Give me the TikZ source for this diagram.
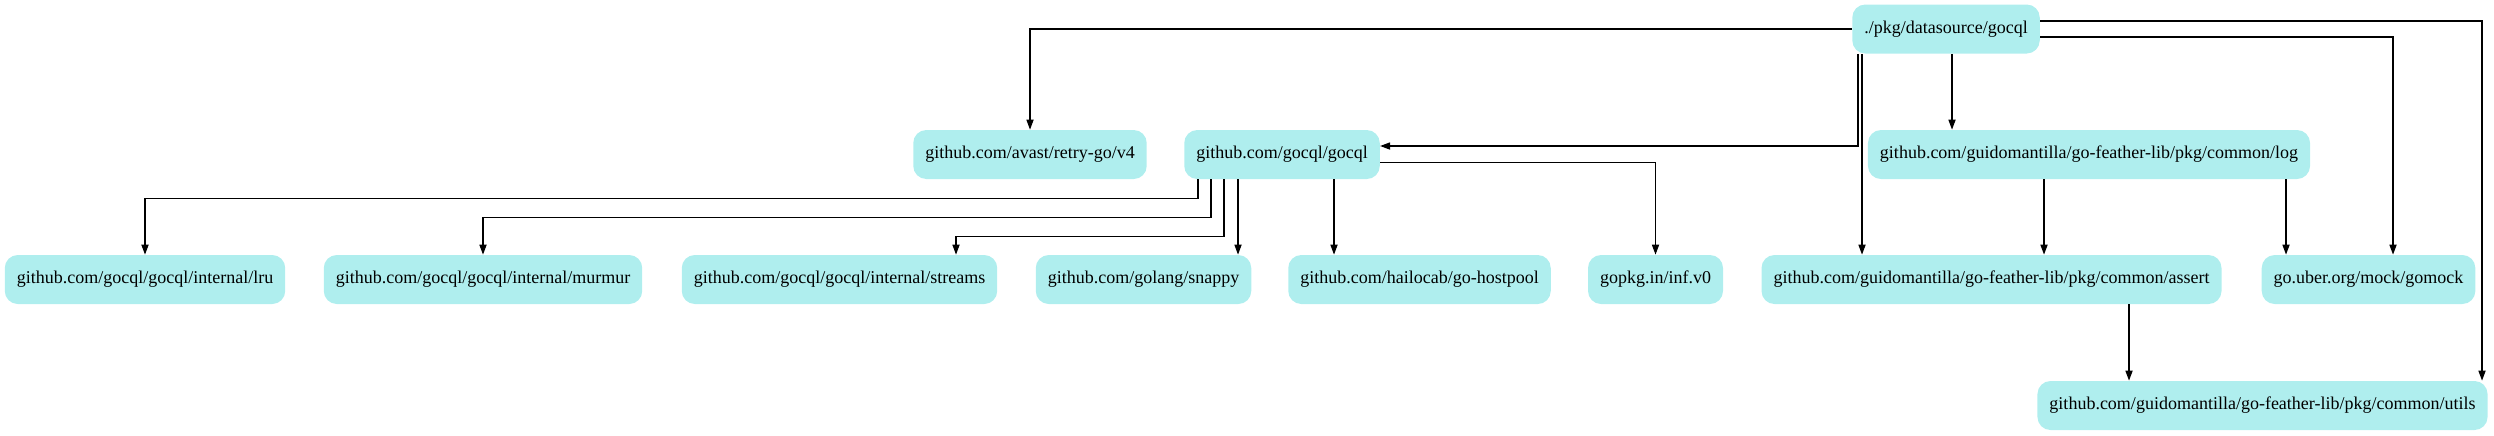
\documentclass[tikz,border=0pt]{standalone}
\usepackage{fontspec}
\setmainfont{Liberation Serif}
\usetikzlibrary{arrows.meta,calc}
\definecolor{paleturq}{HTML}{AFEEEE}
\begin{document}
\begin{tikzpicture}[x=0.5pt,y=-0.5pt,
		pkg/.style={fill=paleturq, rounded corners=6.5pt, minimum height=24.5pt, inner xsep=6pt, inner ysep=0pt, font=\fontsize{9}{11}\selectfont},
		dep/.style={line width=0.55pt, -{Triangle[length=5pt,width=3.6pt]}}]
				\useasboundingbox (0,0) rectangle (2494,435);
				% packages
				\node[pkg] (root) at (1946,29) {./pkg/datasource/gocql};
				\node[pkg] (retry) at (1030,154.5) {github.com/avast/retry-go/v4};
				\node[pkg] (gocql) at (1282,154.5) {github.com/gocql/gocql};
				\node[pkg] (log) at (2089,154.5) {github.com/guidomantilla/go-feather-lib/pkg/common/log};
				\node[pkg] (lru) at (145,279.5) {github.com/gocql/gocql/internal/lru};
				\node[pkg] (murmur) at (483,279.5) {github.com/gocql/gocql/internal/murmur};
				\node[pkg] (streams) at (839.5,279.5) {github.com/gocql/gocql/internal/streams};
				\node[pkg] (snappy) at (1143.5,279.5) {github.com/golang/snappy};
				\node[pkg] (hostpool) at (1419.5,279.5) {github.com/hailocab/go-hostpool};
				\node[pkg] (inf) at (1655.5,279.5) {gopkg.in/inf.v0};
				\node[pkg] (assert) at (1991.5,279.5) {github.com/guidomantilla/go-feather-lib/pkg/common/assert};
				\node[pkg] (gomock) at (2368.5,279.5) {go.uber.org/mock/gomock};
				\node[pkg] (utils) at (2262.5,405.5) {github.com/guidomantilla/go-feather-lib/pkg/common/utils};
				% imports of ./pkg/datasource/gocql
				\draw[dep] (root.west) -| (retry.north);
				\draw[dep] ($(root.south)+(-88,0)$) |- ($(gocql.east)+(0,-8.5)$);
				\draw[dep] ($(root.south)+(6,0)$) coordinate (r1) -- (r1 |- log.north);
				\draw[dep] ($(root.south)+(-84,0)$) coordinate (r2) -- (r2 |- assert.north);
				\draw[dep] ($(root.east)+(0,8)$) -| ($(gomock.north)+(24.5,0)$);
				\draw[dep] ($(root.east)+(0,-8)$) -| ($(utils.north)+(219.5,0)$);
				% imports of github.com/gocql/gocql
				\draw[dep] ($(gocql.south)+(-84,0)$) -- ++(0,18.7) -| (lru.north);
				\draw[dep] ($(gocql.south)+(-71,0)$) -- ++(0,37.7) -| (murmur.north);
				\draw[dep] ($(gocql.south)+(-58,0)$) -- ++(0,57) -| ($(streams.north)+(116.5,0)$);
				\draw[dep] ($(gocql.south)+(-44,0)$) coordinate (g1) -- (g1 |- snappy.north);
				\draw[dep] ($(gocql.south)+(52,0)$) coordinate (g2) -- (g2 |- hostpool.north);
				\draw[dep] ($(gocql.east)+(0,8.2)$) -| (inf.north);
				% go-feather-lib
				\draw[dep] ($(log.south)+(-45,0)$) coordinate (l1) -- (l1 |- assert.north);
				\draw[dep] ($(log.south)+(197,0)$) coordinate (l2) -- (l2 |- gomock.north);
				\draw[dep] ($(assert.south)+(137.5,0)$) coordinate (a1) -- (a1 |- utils.north);
			\end{tikzpicture}
\end{document}
